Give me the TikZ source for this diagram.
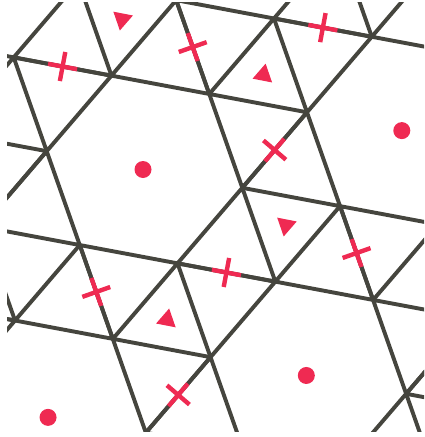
\documentclass[tikz,border=0pt]{standalone}
\usepackage{tikz}
\usetikzlibrary{calc,shapes.geometric,shapes.misc}
\definecolor{tileink}{HTML}{45453E}
\definecolor{tilered}{HTML}{EF2A52}
\newcommand{\hexside}{99.5}
\newcommand{\hexspoke}{172.3}
\newcommand{\hextilt}{10.6}
\newcommand{\hexcell}[1]{%
  \draw[tileedge] ($(#1)+(\hextilt:\hexside)$) -- ($(#1)+(\hextilt+60:\hexside)$) -- ($(#1)+(\hextilt+30:\hexspoke)$) -- cycle;
  \draw[tileedge] ($(#1)+(\hextilt+60:\hexside)$) -- ($(#1)+(\hextilt+120:\hexside)$) -- ($(#1)+(\hextilt+90:\hexspoke)$) -- cycle;
  \draw[tileedge] ($(#1)+(\hextilt+120:\hexside)$) -- ($(#1)+(\hextilt+180:\hexside)$) -- ($(#1)+(\hextilt+150:\hexspoke)$) -- cycle;
  \draw[tileedge] ($(#1)+(\hextilt+180:\hexside)$) -- ($(#1)+(\hextilt+240:\hexside)$) -- ($(#1)+(\hextilt+210:\hexspoke)$) -- cycle;
  \draw[tileedge] ($(#1)+(\hextilt+240:\hexside)$) -- ($(#1)+(\hextilt+300:\hexside)$) -- ($(#1)+(\hextilt+270:\hexspoke)$) -- cycle;
  \draw[tileedge] ($(#1)+(\hextilt+300:\hexside)$) -- ($(#1)+(\hextilt+360:\hexside)$) -- ($(#1)+(\hextilt+330:\hexspoke)$) -- cycle;
}

\begin{document}
\begin{tikzpicture}[
  x=1pt,y=-1pt,
  tileedge/.style={draw=tileink,line width=3.9pt,line join=round,line cap=round},
  spot/.style={circle,fill=tilered,inner sep=0pt,minimum size=17pt},
  wedge/.style={regular polygon,regular polygon sides=3,fill=tilered,inner sep=0pt,minimum size=23pt},
  cross/.style={cross out,draw=tilered,line width=4.4pt,inner sep=0pt,minimum size=16.5pt}
]
\useasboundingbox (0,0) rectangle (424,437);

% centres of the hexagons
\coordinate (hexA) at (144.5,169.5);
\coordinate (hexB) at ($(hexA)+(-8.5:263.2)$);
\coordinate (hexC) at ($(hexA)+(51.5:263.2)$);
\coordinate (hexD) at ($(hexC)-(-8.5:263.2)$);
\coordinate (hexE) at ($(hexA)-(51.5:263.2)$);
\coordinate (hexF) at ($(hexA)-(-8.5:263.2)$);
\coordinate (hexG) at ($(hexB)-(51.5:263.2)$);
\coordinate (hexH) at ($(hexG)+(-8.5:263.2)$);
\coordinate (hexI) at ($(hexB)+(51.5:263.2)$);
\coordinate (hexJ) at ($(hexC)+(51.5:263.2)$);

\begin{scope}
\clip (7,2) rectangle (424,431);
\hexcell{hexA}
\hexcell{hexB}
\hexcell{hexC}
\hexcell{hexD}
\hexcell{hexE}
\hexcell{hexF}
\hexcell{hexG}
\hexcell{hexH}
\hexcell{hexI}
\hexcell{hexJ}
\end{scope}

% six-fold centres
\node[spot] (spotA) at ($(hexA)+(-1.5,0)$) {};
\node[spot] (spotB) at ($(hexB)+(-3,0)$) {};
\node[spot] (spotC) at ($(hexC)+(-2,0)$) {};
\node[spot] (spotD) at ($(hexD)+(0,3)$) {};

% three-fold centres
\node[wedge,rotate=169] (wedgeA) at (barycentric cs:hexA=1,hexB=1,hexC=1) {};
\node[wedge,rotate=-11] (wedgeB) at (barycentric cs:hexA=1,hexC=1,hexD=1) {};
\node[wedge,rotate=-11] (wedgeC) at (barycentric cs:hexA=1,hexB=1,hexG=1) {};
\node[wedge,rotate=169] (wedgeD) at (barycentric cs:hexA=1,hexE=1,hexG=1) {};

% two-fold centres
\node[cross,rotate=4.4] (crossA) at ($(hexA)!0.5!(hexB)$) {};
\node[cross,rotate=4.4] (crossB) at ($(hexD)!0.5!(hexC)$) {};
\node[cross,rotate=34.4] (crossC) at ($(hexA)!0.5!(hexC)$) {};
\node[cross,rotate=34.4] (crossD) at ($(hexA)!0.5!(hexE)$) {};
\node[cross,rotate=34.4] (crossE) at ($(hexB)!0.5!(hexG)$) {};
\node[cross,rotate=-25.6] (crossF) at ($(hexA)!0.5!(hexD)$) {};
\node[cross,rotate=-25.6] (crossG) at ($(hexA)!0.5!(hexG)$) {};
\node[cross,rotate=-25.6] (crossH) at ($(hexB)!0.5!(hexC)$) {};
\end{tikzpicture}
\end{document}
